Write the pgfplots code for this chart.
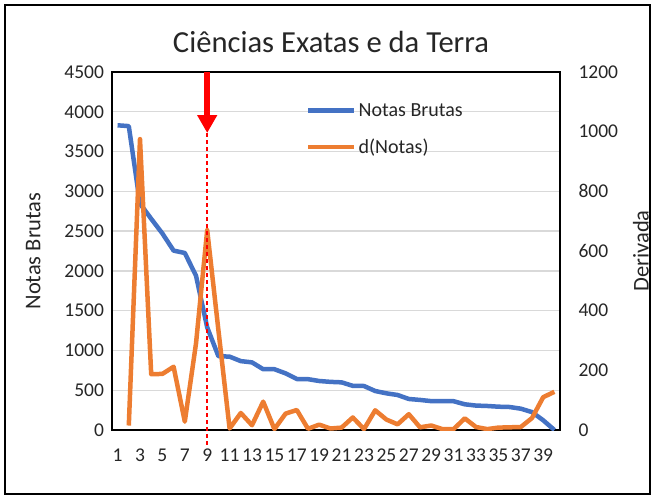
\documentclass[border=0pt]{standalone}
\usepackage{fontspec}
\setmainfont{Carlito}
\usepackage{pgfplots}
\usepackage{pgfplotstable}
\pgfplotsset{compat=1.18}
\usetikzlibrary{arrows.meta}
\definecolor{xblue}{HTML}{4472C4}
\definecolor{xorange}{HTML}{ED7D31}
\definecolor{xgrid}{HTML}{D9D9D9}
\definecolor{xred}{HTML}{FF0000}

\pgfplotstableread{
x n
1 3830
2 3820
3 2845
4 2655
5 2470
6 2255
7 2225
8 1940
9 1290
10 928
11 922
12 866
13 850
14 764
15 764
16 712
17 641
18 639
19 616
20 605
21 599
22 555
23 553
24 490
25 461
26 440
27 390
28 378
29 363
30 362
31 362
32 323
33 307
34 302
35 293
36 289
37 268
38 225
39 122
40 0
}\notas

\pgfplotstableread{
x d
2 15
3 975
4 187
5 188
6 212
7 28
8 290
9 670
10 335
11 5
12 57
13 16
14 95
15 3
16 55
17 67
18 4
19 18
20 5
21 8
22 42
23 3
24 66
25 35
26 19
27 53
28 9
29 15
30 3
31 3
32 39
33 10
34 3
35 8
36 9
37 10
38 40
39 110
40 128
}\deriv

\begin{document}
\begin{tikzpicture}
\pgfplotsset{
  base/.style={
    at={(112pt,69pt)}, anchor=south west,
    scale only axis, width=448pt, height=358pt,
    xmin=0.5, xmax=40.5,
    /pgf/number format/assume math mode=true,
    /pgf/number format/1000 sep={},
    major tick length=0pt,
    tick style={draw=none},
    ticklabel style={font=\fontsize{19.5}{23}\selectfont, text=black!85},
    label style={font=\fontsize{22.5}{27}\selectfont, text=black!85},
  }
}
\begin{axis}[base,
  ymin=0, ymax=4500, ytick={0,500,...,4500},
  xtick={1,3,...,39},
  ymajorgrids, grid style={xgrid, line width=1.4pt},
  axis line style={black, line width=1.6pt},
  ylabel={Notas Brutas},
  ylabel style={at={(axis description cs:-0.176,0.5)}, anchor=center},
  title={Ciências Exatas e da Terra},
  title style={at={(axis description cs:0.489,1.067)}, anchor=center, font=\fontsize{30.6}{36}\selectfont, text=black!85},
  yticklabel style={xshift=-4.5pt},
  xticklabel style={yshift=-15pt},
]
\addplot[xblue, line width=4.5pt, line join=round] table[x=x,y=n]{\notas};
\coordinate (tip) at (axis cs:9,3733);
\coordinate (top) at (axis cs:9,4500);
\coordinate (low) at (axis cs:9,-214);
\end{axis}
\begin{axis}[base,
  ymin=0, ymax=1200, ytick={0,200,...,1200},
  axis y line*=right, axis x line=none,
  axis line style={black, line width=1.6pt},
  ylabel={Derivada},
  ylabel style={at={(axis description cs:1.1808,0.5)}, anchor=center},
  yticklabel style={xshift=15pt},
  legend style={at={(axis description cs:0.433,0.918)}, anchor=north west,
    draw=none, fill=none, font=\fontsize{20}{24}\selectfont, text=black!85,
    row sep=17pt, inner sep=0pt},
  legend cell align=left,
  legend image code/.code={\draw[#1] (0pt,0pt) -- (46pt,0pt);},
]
\addlegendimage{xblue, line width=4.5pt}
\addlegendentry{Notas Brutas}
\addplot[xorange, line width=4.5pt, line join=round] table[x=x,y=d]{\deriv};
\addlegendentry{d(Notas)}
\end{axis}
\draw[draw=xred, line width=1.5pt, dash pattern=on 4pt off 3pt] (tip) -- (low);
\draw[draw=xred, fill=xred, line width=6pt, -{Triangle[width=19pt,length=18pt]}] (top) -- (tip);
\draw[black, line width=2pt] (4.5pt,5pt) rectangle (649.5pt,494pt);
\pgfresetboundingbox
\useasboundingbox (0,0) rectangle (654pt,499pt);
\end{tikzpicture}
\end{document}
